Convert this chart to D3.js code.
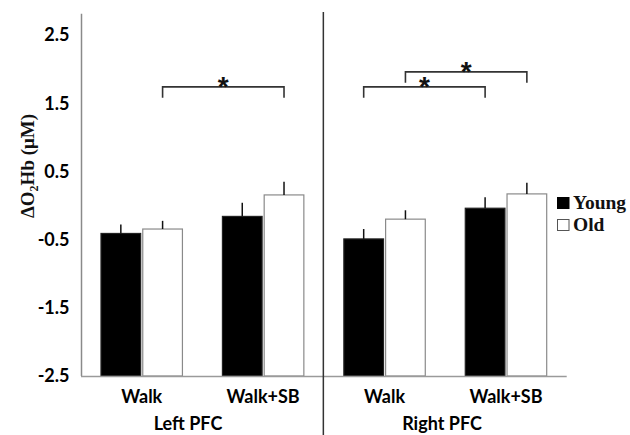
<!DOCTYPE html>
<html>
<head>
<meta charset="utf-8">
<script src="https://cdn.jsdelivr.net/npm/d3@7"></script>
<style>
  html, body { margin: 0; padding: 0; background: #fff; }
  svg { display: block; }
</style>
</head>
<body>
<svg id="chart" width="630" height="435"></svg>
<script>
// ---- data ----
const regions = ["Left PFC", "Right PFC"];
const conditions = ["Walk", "Walk+SB"];
const groups = ["Left PFC|Walk", "Left PFC|Walk+SB", "Right PFC|Walk", "Right PFC|Walk+SB"];
const series = ["Young", "Old"];
const youngMeans = [-0.41, -0.16, -0.49, -0.04];
const oldMeans   = [-0.345, 0.155, -0.20, 0.17];
const youngSE    = [0.13, 0.20, 0.145, 0.16];
const oldSE      = [0.12, 0.195, 0.13, 0.165];
const yTicks = [-2.5, -1.5, -0.5, 0.5, 1.5, 2.5];
// significance comparisons: [groupA, groupB, series, bracket level (value)]
const comparisons = [
  ["Left PFC|Walk", "Left PFC|Walk+SB", "Old", 1.74],
  ["Right PFC|Walk", "Right PFC|Walk+SB", "Young", 1.74],
  ["Right PFC|Walk", "Right PFC|Walk+SB", "Old", 1.96]
];

// ---- layout ----
const svg = d3.select("#chart");
const x0 = d3.scaleBand().domain(groups).range([81, 566.7]);
const x1 = d3.scaleBand().domain(series).range([20, x0.bandwidth() - 20]).paddingInner(0.05);
const y = d3.scaleLinear().domain([-2.5, 2.5]).range([376, 35]);
const yTop = 2.81;

const rows = [];
groups.forEach((g, i) => {
  rows.push({g, s: "Young", v: youngMeans[i], se: youngSE[i]});
  rows.push({g, s: "Old", v: oldMeans[i], se: oldSE[i]});
});

// y axis line
svg.append("line")
  .attr("x1", 81.5).attr("x2", 81.5)
  .attr("y1", y(yTop)).attr("y2", y(-2.5))
  .attr("stroke", "#8a8a8a").attr("stroke-width", 1.5);

// y tick labels
svg.append("g").selectAll("text").data(yTicks).join("text")
  .attr("x", 69.5).attr("y", d => y(d))
  .attr("dy", "0.36em")
  .attr("text-anchor", "end")
  .attr("font-family", "Lato, 'Open Sans', sans-serif")
  .attr("font-weight", "bold")
  .attr("font-size", 18)
  .attr("fill", "#000")
  .text(d => d.toFixed(1));

// y title
const yt = svg.append("text")
  .attr("transform", `translate(34,166) rotate(-90)`)
  .attr("text-anchor", "middle")
  .attr("font-family", "'Liberation Serif', 'Times New Roman', serif")
  .attr("font-weight", "bold")
  .attr("font-size", 19)
  .attr("fill", "#111");
yt.append("tspan").text("ΔO");
yt.append("tspan").attr("font-size", 12).attr("dy", 4).text("2");
yt.append("tspan").attr("dy", -4).text("Hb (μM)");

// bars
const barG = svg.append("g");
barG.selectAll("rect").data(rows).join("rect")
  .attr("x", d => x0(d.g) + x1(d.s))
  .attr("width", x1.bandwidth())
  .attr("y", d => y(d.v))
  .attr("height", d => y(-2.5) - y(d.v))
  .attr("fill", d => d.s === "Young" ? "#000" : "#fff")
  .attr("stroke", d => d.s === "Young" ? "#222" : "#8a8a8a")
  .attr("stroke-width", 1.2);

// error bars (upper only)
barG.selectAll("line.err").data(rows).join("line")
  .attr("class", "err")
  .attr("x1", d => x0(d.g) + x1(d.s) + x1.bandwidth() / 2)
  .attr("x2", d => x0(d.g) + x1(d.s) + x1.bandwidth() / 2)
  .attr("y1", d => y(d.v))
  .attr("y2", d => y(d.v + d.se))
  .attr("stroke", "#111").attr("stroke-width", 1.5);

// baseline
svg.append("line")
  .attr("x1", 81).attr("x2", x0.range()[1])
  .attr("y1", y(-2.5) + 0.5).attr("y2", y(-2.5) + 0.5)
  .attr("stroke", "#9a9a9a").attr("stroke-width", 1.5);

// divider between regions
const divX = x0(groups[2]);
svg.append("line")
  .attr("x1", divX - 0.5).attr("x2", divX - 0.5)
  .attr("y1", 12).attr("y2", 435)
  .attr("stroke", "#333").attr("stroke-width", 1.5);

// condition labels
svg.append("g").selectAll("text").data(groups).join("text")
  .attr("x", d => x0(d) + x0.bandwidth() / 2)
  .attr("y", 403)
  .attr("text-anchor", "middle")
  .attr("font-family", "Lato, 'Open Sans', sans-serif")
  .attr("font-weight", "bold")
  .attr("font-size", 18)
  .attr("fill", "#000")
  .text(d => d.split("|")[1]);

// region labels
const regionX = [188, 442];
svg.append("g").selectAll("text").data(regions).join("text")
  .attr("x", (d, i) => regionX[i])
  .attr("y", 430)
  .attr("text-anchor", "middle")
  .attr("font-family", "Lato, 'Open Sans', sans-serif")
  .attr("font-weight", "bold")
  .attr("font-size", 18)
  .attr("fill", "#000")
  .text(d => d);

// significance brackets
const drop = 0.16;
const brG = svg.append("g");
comparisons.forEach(c => {
  const xa = x0(c[0]) + x1(c[2]) + x1.bandwidth() / 2;
  const xb = x0(c[1]) + x1(c[2]) + x1.bandwidth() / 2;
  const yl = y(c[3]);
  const yd = y(c[3] - drop);
  brG.append("path")
    .attr("d", `M${xa},${yd}V${yl}H${xb}V${yd}`)
    .attr("fill", "none").attr("stroke", "#333").attr("stroke-width", 1.6);
  brG.append("text")
    .attr("x", (xa + xb) / 2).attr("y", yl + 9)
    .attr("text-anchor", "middle")
    .attr("font-family", "'Liberation Sans', Arial, sans-serif")
    .attr("font-weight", "bold")
    .attr("font-size", 28)
    .attr("fill", "#111")
    .text("*");
});

// legend
const lg = svg.append("g").attr("transform", "translate(557,197)");
series.forEach((s, i) => {
  const g = lg.append("g").attr("transform", `translate(0,${i * 22})`);
  g.append("rect").attr("x", 0.5).attr("y", 0.5).attr("width", 11.5).attr("height", 11)
    .attr("fill", s === "Young" ? "#000" : "#fff")
    .attr("stroke", s === "Young" ? "#000" : "#555").attr("stroke-width", 1);
  g.append("text").attr("x", 16).attr("y", 11.5)
    .attr("font-family", "'Liberation Serif', 'Times New Roman', serif")
    .attr("font-weight", "bold").attr("font-size", 19.5)
    .attr("fill", "#111")
    .text(s);
});
</script>
</body>
</html>
